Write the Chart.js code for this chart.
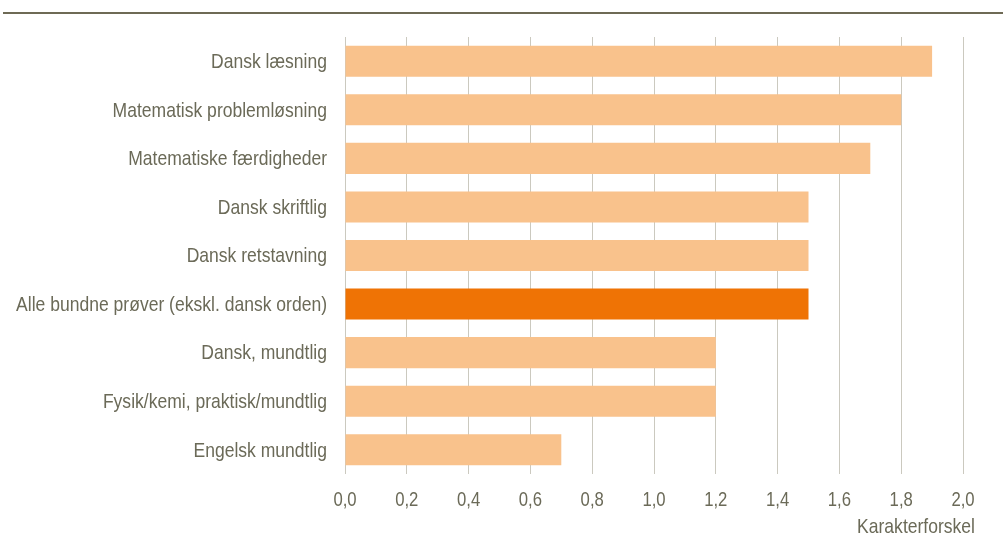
<!DOCTYPE html>
<html><head><meta charset="utf-8">
<script src="https://cdn.jsdelivr.net/npm/chart.js@4"></script>
<style>html,body{margin:0;padding:0;background:#fff}#wrap{width:1003px;height:545px}</style>
</head><body><div id="wrap"><canvas id="c" width="1003" height="545"></canvas></div>
<script>
const categories = ["Dansk læsning","Matematisk problemløsning","Matematiske færdigheder","Dansk skriftlig","Dansk retstavning","Alle bundne prøver (ekskl. dansk orden)","Dansk, mundtlig","Fysik/kemi, praktisk/mundtlig","Engelsk mundtlig"];
const values = [1.9,1.8,1.7,1.5,1.5,1.5,1.2,1.2,0.7];
const highlight = [false,false,false,false,false,true,false,false,false];
const xTicks = [0,0.2,0.4,0.6,0.8,1.0,1.2,1.4,1.6,1.8,2.0];
const axisTitle = "Karakterforskel";

const FONT = "'Liberation Sans',Arial,sans-serif";
const TXT = "#6b6a58";
const SX = 0.835;

function narrowText(ctx, text, x, y, align){
  ctx.save();
  ctx.translate(x, y);
  ctx.scale(SX, 1);
  ctx.textAlign = align;
  ctx.textBaseline = "middle";
  ctx.fillText(text, 0, 0);
  ctx.restore();
}

const deco = {
  id:'deco',
  afterDraw(chart){
    const ctx = chart.ctx;
    ctx.save();
    ctx.strokeStyle = "#6e6a55"; ctx.lineWidth = 2;
    ctx.beginPath(); ctx.moveTo(3,13); ctx.lineTo(1003,13); ctx.stroke();
    ctx.fillStyle = TXT; ctx.font = "21px " + FONT;
    const ys = chart.scales.y;
    chart.data.labels.forEach((lab,i)=>{
      narrowText(ctx, lab, ys.right - 18, ys.getPixelForTick(i) + 1, "right");
    });
    const xs = chart.scales.x;
    ctx.font = "20px " + FONT;
    xs.ticks.forEach(t=>{
      narrowText(ctx, Number(t.value).toFixed(1).replace('.',','), xs.getPixelForValue(t.value), 500, "center");
    });
    ctx.font = "21px " + FONT;
    narrowText(ctx, axisTitle, 975, 527, "right");
    ctx.restore();
  }
};

new Chart(document.getElementById('c'), {
  type:'bar',
  data:{labels:categories, datasets:[{data:values,
    backgroundColor: highlight.map(h=>h?"#ef7305":"#f9c28c"),
    barPercentage:0.64, categoryPercentage:1.0}]},
  options:{
    indexAxis:'y', responsive:false, animation:false,
    layout:{padding:{left:0,right:40,top:37,bottom:0}},
    plugins:{legend:{display:false},tooltip:{enabled:false}},
    scales:{
      x:{min:0,max:2,
        afterBuildTicks(s){ s.ticks = xTicks.map(v=>({value:v})); },
        afterFit(s){ s.height = 71; },
        grid:{color:"#cbc9bf",drawTicks:false,lineWidth:1},
        border:{display:false},
        ticks:{display:false}},
      y:{
        afterFit(s){ s.width = 345; },
        grid:{display:false}, border:{display:false},
        ticks:{display:false}}
    }
  },
  plugins:[deco]
});
</script></body></html>
